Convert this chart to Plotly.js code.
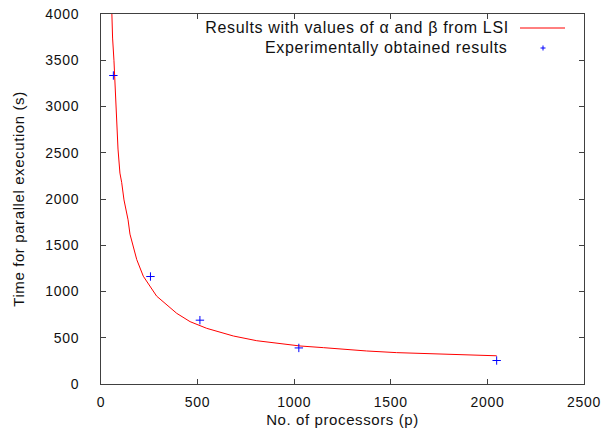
<!DOCTYPE html>
<html>
<head>
<meta charset="utf-8">
<script src="https://cdn.plot.ly/plotly-3.0.1.min.js"></script>
<style>
html,body{margin:0;padding:0;background:#fff;}
#chart{width:608px;height:442px;}
#chart .xtick text, #chart .ytick text{letter-spacing:0.7px;}
#chart .xtitle, #chart .ytitle{letter-spacing:0.6px;}
#chart .annotation-text{letter-spacing:0.65px;}
</style>
</head>
<body>
<div id="chart"></div>
<script>
// Fitted curve (alpha, beta from LSI)
const curveP = [50, 55, 60, 67, 78, 88, 98, 107, 119, 140, 150, 185, 219, 288, 392, 461, 547, 685, 806, 909, 1030, 1151, 1272, 1375, 1530, 1686, 1824, 1996, 2048];
const curveT = [4450, 4000, 3740, 3500, 3000, 2540, 2280, 2180, 1990, 1775, 1620, 1345, 1165, 950, 764, 674, 602, 519, 468, 440, 411, 393, 370, 357, 339, 328, 317, 310, 305];
// Experimental results
const expP = [64, 256, 512, 1024, 2048];
const expT = [3335, 1162, 690, 390, 254];
const xTicks = [0, 500, 1000, 1500, 2000, 2500];
const yTicks = [0, 500, 1000, 1500, 2000, 2500, 3000, 3500, 4000];
const legendLabels = ['Results with values of \u03b1 and \u03b2 from LSI', 'Experimentally obtained results'];

const FONT = 'Liberation Sans, Arial, sans-serif';
const axisCommon = {
  showgrid: false, zeroline: false, showline: true, linecolor: '#404040', linewidth: 1,
  mirror: 'ticks', ticks: 'inside', ticklen: 5, tickwidth: 1, tickcolor: '#404040',
  tickfont: {family: FONT, size: 14, color: '#111'}, fixedrange: true
};

const traces = [
  {x: curveP, y: curveT, type: 'scatter', mode: 'lines', name: legendLabels[0],
   line: {color: '#ff0000', width: 1}, showlegend: false, hoverinfo: 'skip'},
  {x: expP, y: expT, type: 'scatter', mode: 'markers', name: legendLabels[1],
   marker: {symbol: 'cross-thin', size: 6, color: '#0000ff', line: {color: '#0000ff', width: 1}},
   showlegend: false, cliponaxis: false}
];

const L = 101, R = 584, T = 14, B = 384;
const px = v => (v - L) / (R - L);
const py = v => (B - v) / (B - T);

const layout = {
  width: 608, height: 442,
  margin: {l: L, r: 608 - R, t: T, b: 442 - B, pad: 0},
  paper_bgcolor: '#fff', plot_bgcolor: '#fff',
  font: {family: FONT, size: 14, color: '#111'},
  showlegend: false,
  xaxis: Object.assign({}, axisCommon, {
    range: [0, 2500], tickvals: xTicks, ticktext: xTicks.map(String),
    ticklabelstandoff: 5,
    title: {text: 'No. of processors (p)', font: {family: FONT, size: 15, color: '#111'}, standoff: 5}
  }),
  yaxis: Object.assign({}, axisCommon, {
    range: [0, 4000], tickvals: yTicks, ticktext: yTicks.map(String),
    ticklabelstandoff: 18,
    title: {text: 'Time for parallel execution (s)', font: {family: FONT, size: 15, color: '#111'}, standoff: 19}
  }),
  annotations: [
    {xref: 'paper', yref: 'paper', x: px(498), y: py(28), xanchor: 'right', yanchor: 'middle',
     text: legendLabels[0], showarrow: false, font: {family: FONT, size: 16, color: '#111'}},
    {xref: 'paper', yref: 'paper', x: px(499), y: py(48), xanchor: 'right', yanchor: 'middle',
     text: legendLabels[1], showarrow: false, font: {family: FONT, size: 16, color: '#111'}}
  ],
  shapes: [
    {type: 'line', xref: 'paper', yref: 'paper', x0: px(520), x1: px(565), y0: py(28), y1: py(28),
     line: {color: '#ff0000', width: 1}},
    {type: 'line', xref: 'paper', yref: 'paper', x0: px(540.5), x1: px(545.5), y0: py(48), y1: py(48),
     line: {color: '#0000ff', width: 1}},
    {type: 'line', xref: 'paper', yref: 'paper', x0: px(543), x1: px(543), y0: py(45.5), y1: py(50.5),
     line: {color: '#0000ff', width: 1}}
  ]
};

Plotly.newPlot('chart', traces, layout, {staticPlot: true, displayModeBar: false});
</script>
</body>
</html>
